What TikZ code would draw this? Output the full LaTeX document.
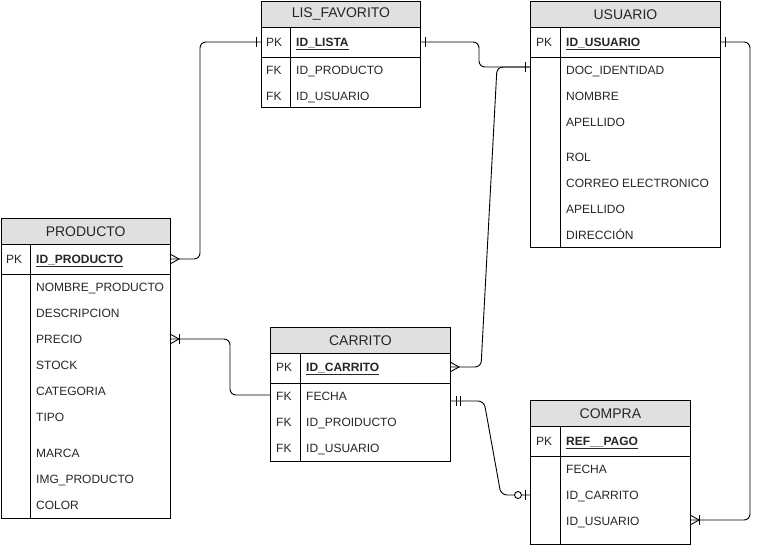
\documentclass[tikz,border=0pt]{standalone}
\usepackage{fontspec}
\setmainfont{Liberation Sans}
\begin{document}
\begin{tikzpicture}[x=1pt,y=-1pt,
  tline/.style={draw=black,line width=0.9pt},
  hdr/.style={draw=black,line width=0.9pt,fill={rgb,255:red,224;green,224;blue,224},anchor=north west,inner sep=0pt,font=\fontsize{14}{16}\selectfont,text=black!85},
  bodybox/.style={draw=black,line width=0.9pt,fill=white,anchor=north west,inner sep=0pt},
  txt/.style={anchor=base west,inner sep=0pt,yshift=-4.4pt,font=\fontsize{12}{14}\selectfont,text=black!85},
  conn/.style={draw=black,line width=0.9pt,rounded corners=6pt},
  mk/.style={draw=black,line width=0.9pt}
]
\useasboundingbox (0,0) rectangle (761,546);

% ---------- LIS_FAVORITO ----------
\node[hdr,minimum width=159pt,minimum height=26pt] (favh) at (261,1) {LIS\_FAVORITO};
\node[bodybox,minimum width=159pt,minimum height=80pt] (favb) at (261,27) {};
\draw[tline] (261,57) -- (420,57);
\draw[tline] (290,27) -- (290,107);
\node[txt] (favpk) at (266,42) {PK};
\node[txt] (favid) at (296,42) {\underline{\textbf{ID\_LISTA}}};
\node[txt] (favf1) at (266,70) {FK};
\node[txt] (favr1) at (296,70) {ID\_PRODUCTO};
\node[txt] (favf2) at (266,96) {FK};
\node[txt] (favr2) at (296,96) {ID\_USUARIO};

% ---------- USUARIO ----------
\node[hdr,minimum width=190pt,minimum height=26pt] (ush) at (530,1) {USUARIO};
\node[bodybox,minimum width=190pt,minimum height=220pt] (usb) at (530,27) {};
\draw[tline] (530,57) -- (720,57);
\draw[tline] (560,27) -- (560,247);
\node[txt] (uspk) at (536,42) {PK};
\node[txt] (usid) at (566,42) {\underline{\textbf{ID\_USUARIO}}};
\node[txt] (usr1) at (566,70) {DOC\_IDENTIDAD};
\node[txt] (usr2) at (566,96) {NOMBRE};
\node[txt] (usr3) at (566,122) {APELLIDO};
\node[txt] (usr4) at (566,157) {ROL};
\node[txt] (usr5) at (566,183) {CORREO ELECTRONICO};
\node[txt] (usr6) at (566,209) {APELLIDO};
\node[txt] (usr7) at (566,235) {DIRECCIÓN};

% ---------- PRODUCTO ----------
\node[hdr,minimum width=169.5pt,minimum height=26pt] (proh) at (0.5,218) {PRODUCTO};
\node[bodybox,minimum width=169.5pt,minimum height=274pt] (prob) at (0.5,244) {};
\draw[tline] (0.5,274) -- (170,274);
\draw[tline] (30,244) -- (30,518);
\node[txt] (propk) at (6,259) {PK};
\node[txt] (proid) at (36,259) {\underline{\textbf{ID\_PRODUCTO}}};
\node[txt] (pror1) at (36,287) {NOMBRE\_PRODUCTO};
\node[txt] (pror2) at (36,313) {DESCRIPCION};
\node[txt] (pror3) at (36,339) {PRECIO};
\node[txt] (pror4) at (36,365) {STOCK};
\node[txt] (pror5) at (36,391) {CATEGORIA};
\node[txt] (pror6) at (36,417) {TIPO};
\node[txt] (pror7) at (36,453) {MARCA};
\node[txt] (pror8) at (36,479) {IMG\_PRODUCTO};
\node[txt] (pror9) at (36,505) {COLOR};

% ---------- CARRITO ----------
\node[hdr,minimum width=180pt,minimum height=26pt] (carh) at (270,327) {CARRITO};
\node[bodybox,minimum width=180pt,minimum height=108pt] (carb) at (270,353) {};
\draw[tline] (270,383) -- (450,383);
\draw[tline] (300,353) -- (300,461);
\node[txt] (carpk) at (276,367) {PK};
\node[txt] (carid) at (306,367) {\underline{\textbf{ID\_CARRITO}}};
\node[txt] (carf1) at (276,396) {FK};
\node[txt] (carr1) at (306,396) {FECHA};
\node[txt] (carf2) at (276,422) {FK};
\node[txt] (carr2) at (306,422) {ID\_PROIDUCTO};
\node[txt] (carf3) at (276,448) {FK};
\node[txt] (carr3) at (306,448) {ID\_USUARIO};

% ---------- COMPRA ----------
\node[hdr,minimum width=160pt,minimum height=26pt] (comh) at (530,400) {COMPRA};
\node[bodybox,minimum width=160pt,minimum height=118pt] (comb) at (530,426) {};
\draw[tline] (530,456) -- (690,456);
\draw[tline] (560,426) -- (560,544);
\node[txt] (compk) at (536,441) {PK};
\node[txt] (comid) at (566,441) {\underline{\textbf{REF\_\_PAGO}}};
\node[txt] (comr1) at (566,469) {FECHA};
\node[txt] (comr2) at (566,495) {ID\_CARRITO};
\node[txt] (comr3) at (566,521) {ID\_USUARIO};

% ---------- connector end points ----------
\coordinate (proPK) at (170,259);
\coordinate (favPKl) at (261,42);
\coordinate (favPKr) at (420,42);
\coordinate (usL) at (530,67);
\coordinate (carPK) at (450,367);
\coordinate (proPrecio) at (170,339);
\coordinate (carFechaL) at (270,395);
\coordinate (carFechaR) at (450,401);
\coordinate (comCarrito) at (530,495);
\coordinate (usPK) at (720,42);
\coordinate (comUsuario) at (690,520);

% ---------- connectors ----------
\draw[conn] (proPK) -- (200,259) -- (200,42) -- (favPKl);
\draw[conn] (favPKr) -- (479,42) -- (479,67) -- (usL);
\draw[conn] (carPK) -- (481,367) -- (497,67) -- (usL);
\draw[conn] (proPrecio) -- (230,339) -- (230,395) -- (carFechaL);
\draw[conn] (carFechaR) -- (484,401) -- (501,495) -- (comCarrito);
\draw[conn] (usPK) -- (750,42) -- (750,520) -- (comUsuario);

% ---------- markers ----------
\draw[mk] ([yshift=-5pt]proPK) -- ([xshift=9pt]proPK) -- ([yshift=5pt]proPK);
\draw[mk] ([xshift=-5pt,yshift=-5pt]favPKl) -- ([xshift=-5pt,yshift=5pt]favPKl);
\draw[mk] ([xshift=5pt,yshift=-5pt]favPKr) -- ([xshift=5pt,yshift=5pt]favPKr);
\draw[mk] ([xshift=-5pt,yshift=-5pt]usL) -- ([xshift=-5pt,yshift=5pt]usL);
\draw[mk] ([yshift=-5pt]carPK) -- ([xshift=9pt]carPK) -- ([yshift=5pt]carPK);
\draw[mk] ([yshift=-5pt]proPrecio) -- ([xshift=9pt]proPrecio) -- ([yshift=5pt]proPrecio);
\draw[mk] ([xshift=9pt,yshift=-5pt]proPrecio) -- ([xshift=9pt,yshift=5pt]proPrecio);
\draw[mk] ([xshift=6pt,yshift=-5pt]carFechaR) -- ([xshift=6pt,yshift=5pt]carFechaR);
\draw[mk] ([xshift=10pt,yshift=-5pt]carFechaR) -- ([xshift=10pt,yshift=5pt]carFechaR);
\draw[mk] ([xshift=-5pt,yshift=-5pt]comCarrito) -- ([xshift=-5pt,yshift=5pt]comCarrito);
\draw[mk,fill=white] ([xshift=-12pt]comCarrito) circle (3.5pt);
\draw[mk] ([xshift=5pt,yshift=-5pt]usPK) -- ([xshift=5pt,yshift=5pt]usPK);
\draw[mk] ([yshift=-5pt]comUsuario) -- ([xshift=9pt]comUsuario) -- ([yshift=5pt]comUsuario);
\draw[mk] ([xshift=9pt,yshift=-5pt]comUsuario) -- ([xshift=9pt,yshift=5pt]comUsuario);
\end{tikzpicture}
\end{document}
